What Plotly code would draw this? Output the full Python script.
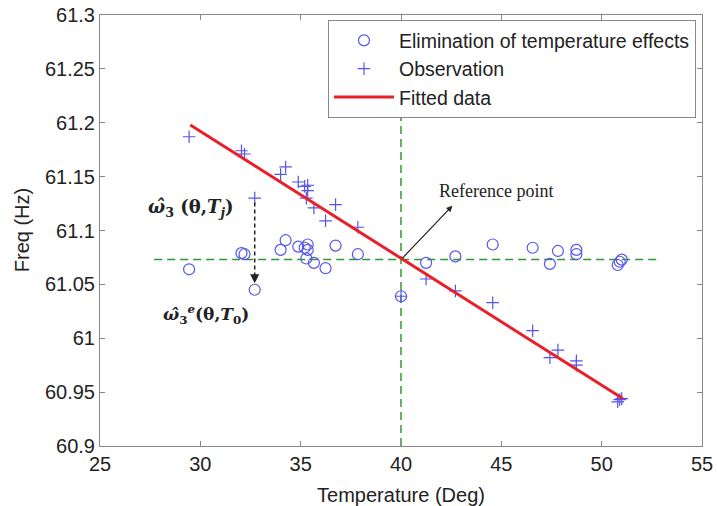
import plotly.graph_objects as go

# temperatures of the measurements (Deg)
temp = [29.44, 32.05, 32.2, 32.71, 34.0, 34.25, 34.88, 35.2, 35.35, 35.35, 35.28,
        35.66, 36.74, 36.24, 37.85, 40.0, 41.25, 42.71, 44.57, 46.56, 47.42, 47.82,
        48.74, 48.74, 50.8, 50.9, 51.0]
# observed frequency (Hz)
observed = [61.187, 61.174, 61.171, 61.130, 61.152, 61.159, 61.145, 61.141, 61.142,
            61.137, 61.130, 61.121, 61.124, 61.109, 61.103, 61.039, 61.055, 61.044,
            61.033, 61.007, 60.982, 60.989, 60.979, 60.975, 60.941, 60.943, 60.944]
# frequency after elimination of temperature effects (Hz)
corrected = [61.064, 61.079, 61.078, 61.045, 61.082, 61.091, 61.085, 61.084, 61.087,
             61.082, 61.074, 61.070, 61.086, 61.065, 61.078, 61.039, 61.070, 61.076,
             61.087, 61.084, 61.069, 61.081, 61.082, 61.078, 61.068, 61.071, 61.073]
# fitted line end points
fit_t = [29.5, 51.05]
fit_f = [61.198, 60.944]
# reference point
ref_t, ref_f = 40.0, 61.073

xticks = [25, 30, 35, 40, 45, 50, 55]
yticks = [60.9, 60.95, 61.0, 61.05, 61.1, 61.15, 61.2, 61.25, 61.3]
ytext = ["60.9", "60.95", "61", "61.05", "61.1", "61.15", "61.2", "61.25", "61.3"]

blue = "rgb(85,85,235)"
green = "#2f9a2f"
ink = "#222"

fig = go.Figure()

# reference dashed lines
fig.add_trace(go.Scatter(x=[27.7, 52.8], y=[ref_f, ref_f], mode="lines",
                         line=dict(color=green, width=1.5, dash="8px,5px"),
                         showlegend=False, hoverinfo="skip"))
fig.add_trace(go.Scatter(x=[ref_t, ref_t], y=[60.9, 61.27], mode="lines",
                         line=dict(color=green, width=1.5, dash="8px,5px"),
                         showlegend=False, hoverinfo="skip"))

fig.add_trace(go.Scatter(x=temp, y=corrected, mode="markers",
                         name="Elimination of temperature effects",
                         marker=dict(symbol="circle-open", size=11, color=blue,
                                     line=dict(width=1.2, color=blue))))
fig.add_trace(go.Scatter(x=temp, y=observed, mode="markers", name="Observation",
                         marker=dict(symbol="cross-thin-open", size=9, color=blue,
                                     line=dict(width=1.2, color=blue))))
fig.add_trace(go.Scatter(x=fit_t, y=fit_f, mode="lines", name="Fitted data",
                         line=dict(color="#e8202a", width=3)))

# arrow to the reference point label
fig.add_annotation(x=42.56, y=61.123, ax=ref_t, ay=ref_f, xref="x", yref="y",
                   axref="x", ayref="y", text="", showarrow=True, arrowhead=2,
                   arrowsize=1, arrowwidth=1.2, arrowcolor=ink)
fig.add_annotation(x=44.75, y=61.137, text="Reference point", showarrow=False,
                   font=dict(family="Liberation Serif", size=18, color=ink))

# dashed arrow from observation to corrected value
fig.add_trace(go.Scatter(x=[32.71, 32.71], y=[61.126, 61.056], mode="lines",
                         line=dict(color=ink, width=1.5, dash="4px,3px"),
                         showlegend=False, hoverinfo="skip"))
fig.add_annotation(x=32.71, y=61.051, ax=32.71, ay=61.058, xref="x", yref="y",
                   axref="x", ayref="y", text="", showarrow=True, arrowhead=2,
                   arrowsize=1.2, arrowwidth=1.5, arrowcolor=ink)

fig.add_annotation(x=29.5, y=61.121, showarrow=False,
                   text="<b><i>ω̂</i><sub>3</sub> (θ,<i>T</i><sub><i>j</i></sub>)</b>",
                   font=dict(family="DejaVu Serif", size=18, color=ink))
fig.add_annotation(x=30.3, y=61.022, showarrow=False,
                   text="<b><i>ω̂</i><sub>3</sub><sup><i>e</i></sup>(θ,<i>T</i><sub>0</sub>)</b>",
                   font=dict(family="DejaVu Serif", size=17, color=ink))

# y axis title placed by hand, close to the tick labels
fig.add_annotation(x=-0.13, y=0.5, xref="paper", yref="paper", text="Freq (Hz)",
                   textangle=-90, showarrow=False, xanchor="center", yanchor="middle",
                   font=dict(family="Liberation Sans", size=20, color=ink))

axis_style = dict(showgrid=False, zeroline=False, showline=True, linecolor="#888",
                  linewidth=1, mirror="ticks", ticks="inside", ticklen=5,
                  tickcolor="#888", automargin=False,
                  tickfont=dict(family="Liberation Sans", size=20, color=ink))

fig.update_xaxes(range=[25, 55], tickvals=xticks,
                 title=dict(text="Temperature (Deg)", standoff=14,
                            font=dict(family="Liberation Sans", size=20, color=ink)),
                 **axis_style)
fig.update_yaxes(range=[60.9, 61.3], tickvals=yticks, ticktext=ytext, **axis_style)

fig.update_layout(
    width=717, height=506,
    margin=dict(l=100, r=15, t=15, b=60),
    plot_bgcolor="white", paper_bgcolor="white",
    legend=dict(x=0.99, y=0.988, xanchor="right", yanchor="top",
                bgcolor="white", bordercolor="#888", borderwidth=1,
                font=dict(family="Liberation Sans", size=19.5, color=ink),
                tracegroupgap=0, itemwidth=60),
)

fig.write_html("out.html", config={"displayModeBar": False},
               post_script="document.body.style.margin='0';document.body.style.overflow='hidden';")
